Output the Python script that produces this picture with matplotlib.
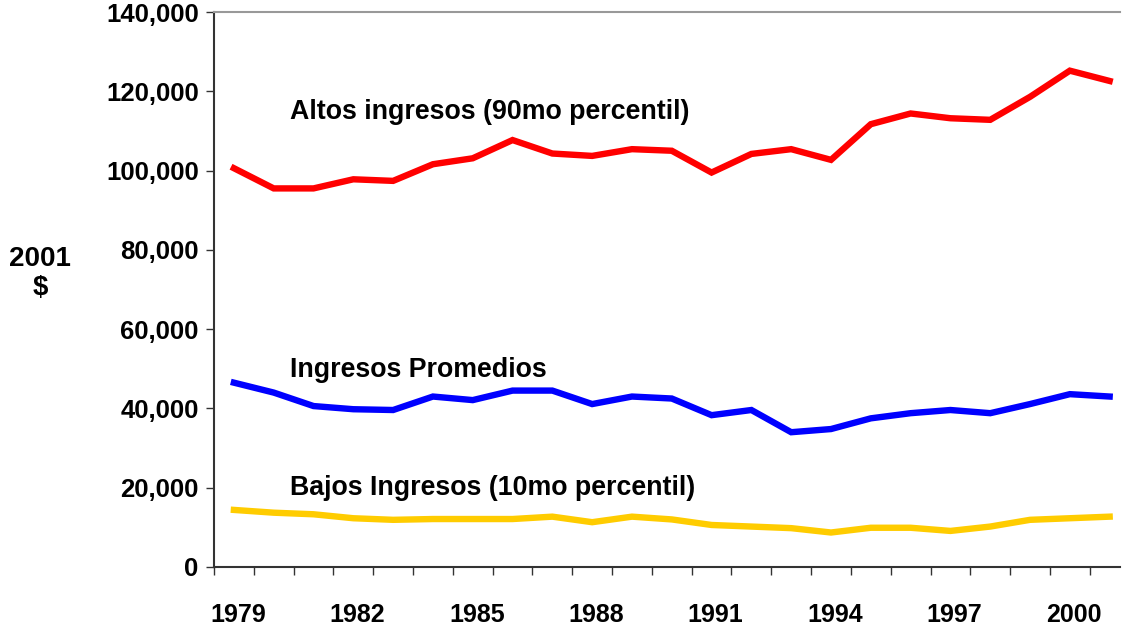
import matplotlib
matplotlib.use("Agg")
import matplotlib.pyplot as plt
from matplotlib.ticker import FixedLocator, FuncFormatter

plt.rcParams['font.family'] = ['Liberation Sans', 'DejaVu Sans']

years = list(range(1979, 2002))
altos = [100600, 95500, 95500, 97800, 97400, 101600, 103100, 107700, 104300, 103700,
         105400, 105000, 99500, 104200, 105400, 102700, 111700, 114400, 113200, 112800,
         118600, 125200, 122600]
promedios = [46500, 44000, 40600, 39800, 39600, 43000, 42100, 44500, 44500, 41100,
             43000, 42500, 38300, 39600, 34000, 34800, 37500, 38800, 39600, 38800,
             41100, 43600, 43000]
bajos = [14400, 13700, 13300, 12300, 11900, 12100, 12100, 12100, 12700, 11300,
         12700, 12000, 10600, 10200, 9800, 8700, 9900, 9900, 9100, 10200,
         11900, 12300, 12700]
year_labels = ['1979', '1982', '1985', '1988', '1991', '1994', '1997', '2000']
y_ticks = [0, 20000, 40000, 60000, 80000, 100000, 120000, 140000]

fig = plt.figure(figsize=(11.24, 6.27), dpi=100)
W, H = 1124, 627
ax = fig.add_axes([214 / W, 1 - 567 / H, (1120 - 214) / W, (567 - 12) / H])

xs = list(range(len(years)))
ax.plot(xs, altos, color='#FF0000', lw=4.6, solid_joinstyle='miter')
ax.plot(xs, promedios, color='#0000FF', lw=4.6, solid_joinstyle='miter')
ax.plot(xs, bajos, color='#FFCC00', lw=4.6, solid_joinstyle='miter')

ax.set_xlim(-0.5, 22.26)
ax.set_ylim(0, 140000)

ax.xaxis.set_major_locator(FixedLocator([i - 0.5 for i in range(23)]))
ax.xaxis.set_major_formatter(FuncFormatter(lambda v, p: ''))
label_pos = [years.index(int(y)) for y in year_labels]
ax.xaxis.set_minor_locator(FixedLocator([p + 0.1 for p in label_pos]))
ax.xaxis.set_minor_formatter(FuncFormatter(lambda v, p: str(years[int(round(v))])))
ax.tick_params(axis='x', which='major', direction='out', length=6, width=1, color='#333333')
ax.tick_params(axis='x', which='minor', length=0, pad=26, labelsize=18)
for t in ax.xaxis.get_minorticklabels():
    t.set_fontweight('bold')

ax.set_yticks(y_ticks)
ax.yaxis.set_major_formatter(FuncFormatter(lambda v, p: f"{int(v):,}"))
ax.tick_params(axis='y', direction='out', length=6, width=1, color='#333333', pad=5, labelsize=18.5)
for t in ax.get_yticklabels():
    t.set_fontweight('bold')

ax.spines['right'].set_visible(False)
ax.spines['top'].set_color('#999999')
ax.spines['top'].set_linewidth(1.5)
ax.spines['left'].set_color('#333333')
ax.spines['bottom'].set_color('#333333')
ax.spines['left'].set_linewidth(1.5)
ax.spines['bottom'].set_linewidth(1.5)

ax.text(1.4, 114800, 'Altos ingresos (90mo percentil)', fontsize=19.3, fontweight='bold', va='center', ha='left')
ax.text(1.4, 49700, 'Ingresos Promedios', fontsize=19.3, fontweight='bold', va='center', ha='left')
ax.text(1.4, 19900, 'Bajos Ingresos (10mo percentil)', fontsize=19.3, fontweight='bold', va='center', ha='left')

fig.text(40 / W, 1 - 274 / H, '2001\n$', fontsize=20, fontweight='bold', ha='center', va='center', linespacing=1.15)

fig.savefig('out.png', dpi=100)
